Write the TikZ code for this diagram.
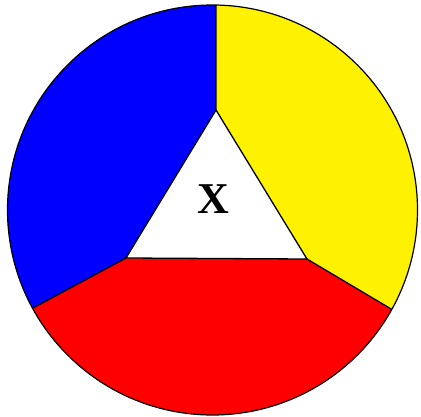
\documentclass[tikz,border=0pt]{standalone}
\usepackage{fontspec}
\setmainfont{Liberation Serif}
\usetikzlibrary{calc}
\tikzset{
  divline/.style={draw=black, line width=1.3pt, line join=round},
  centrelabel/.style={inner sep=0pt, font=\fontsize{44}{44}\selectfont\bfseries}
}
\begin{document}
\begin{tikzpicture}[x=1pt,y=-1pt]
\useasboundingbox (0,0) rectangle (421,416);
\fill[white] (0,0) rectangle (421,416);
\coordinate (C) at (212.5,210);
\coordinate (T) at (216,110);
\coordinate (BL) at (126,258);
\coordinate (BR) at (307,259);
\coordinate (Ptop) at ($(C)+(-89:205)$);
\coordinate (L) at ($(C)+(151.35:205)$);
\coordinate (R) at ($(C)+(29:205)$);
\coordinate (Lx) at ($(BL)!3!(L)$);
\coordinate (Rx) at ($(BR)!3!(R)$);
\begin{scope}
  \clip (C) circle[radius=205];
  \fill[blue] (T) -- (216,-100) -- (-100,-100) -- (Lx) -- (BL) -- cycle;
  \fill[yellow] (T) -- (216,-100) -- (540,-100) -- (Rx) -- (BR) -- cycle;
  \fill[red] (BL) -- (Lx) -- (-160,620) -- (580,620) -- (Rx) -- (BR) -- cycle;
\end{scope}
\draw[divline, fill=white] (T) -- (BL) -- (BR) -- cycle;
\draw[divline] (T) -- (Ptop);
\draw[divline] (BL) -- (L);
\draw[divline] (BR) -- (R);
\draw[black, line width=1.2pt] (C) circle[radius=205];
\node[centrelabel] (x) at (213.5,199) {X};
\end{tikzpicture}
\end{document}
